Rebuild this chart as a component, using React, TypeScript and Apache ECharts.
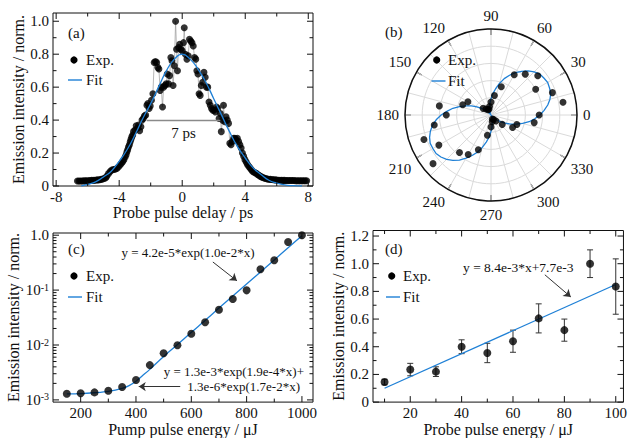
import React, { useEffect, useRef } from 'react';
import * as echarts from 'echarts';

const FONT = '"Liberation Serif", "Times New Roman", serif';
const INK = '#111111';
const BLUE = '#1f80d6';
const GRIDC = '#dadada';

// ---------- Panel (a): probe pulse delay scan ----------
const delayData: [number, number][] = [
  [-6.65, 0.03], [-6.55, 0.03], [-6.45, 0.03], [-6.35, 0.03], [-6.25, 0.031], [-6.15, 0.031], [-6.05, 0.032],
  [-5.95, 0.032], [-5.85, 0.033], [-5.75, 0.034], [-5.65, 0.034], [-5.55, 0.035], [-5.45, 0.036], [-5.35, 0.037],
  [-5.25, 0.038], [-5.15, 0.04], [-5.05, 0.042], [-4.95, 0.045], [-4.85, 0.05], [-4.78, 0.06], [-4.68, 0.075],
  [-4.57, 0.088], [-4.47, 0.097], [-4.36, 0.1], [-4.26, 0.102], [-4.15, 0.106], [-4.05, 0.115], [-3.94, 0.127],
  [-3.86, 0.138], [-3.77, 0.148], [-3.7, 0.16], [-3.62, 0.176], [-3.56, 0.19], [-3.51, 0.206], [-3.46, 0.22],
  [-3.41, 0.236], [-3.35, 0.25], [-3.3, 0.268], [-3.25, 0.283], [-3.2, 0.298], [-3.14, 0.31], [-3.09, 0.33],
  [-3.0, 0.34], [-2.92, 0.365], [-2.84, 0.35], [-2.77, 0.37], [-2.7, 0.335], [-2.62, 0.36], [-2.55, 0.4],
  [-2.47, 0.41], [-2.4, 0.425], [-2.32, 0.43], [-2.24, 0.49], [-2.18, 0.5], [-2.1, 0.47], [-2.03, 0.485],
  [-1.95, 0.52], [-1.86, 0.56], [-1.78, 0.75], [-1.7, 0.755], [-1.62, 0.75], [-1.55, 0.72], [-1.48, 0.71],
  [-1.4, 0.58], [-1.33, 0.6], [-1.25, 0.48], [-1.18, 0.6], [-1.1, 0.61], [-1.02, 0.62], [-0.95, 0.68],
  [-0.87, 0.62], [-0.8, 0.67], [-0.72, 0.78], [-0.65, 0.76], [-0.58, 0.61], [-0.5, 0.73], [-0.42, 1.0],
  [-0.36, 0.83], [-0.3, 0.7], [-0.23, 0.84], [-0.16, 0.86], [-0.08, 0.83], [0.0, 0.82], [0.08, 0.87],
  [0.13, 0.96], [0.2, 0.8], [0.3, 0.77], [0.38, 0.79], [0.46, 0.89], [0.54, 0.88], [0.62, 0.87], [0.7, 0.85],
  [0.78, 0.78], [0.86, 0.77], [0.93, 0.7], [1.0, 0.68], [1.07, 0.56], [1.14, 0.55], [1.21, 0.61], [1.3, 0.63],
  [1.38, 0.69], [1.46, 0.66], [1.54, 0.6], [1.62, 0.6], [1.7, 0.51], [1.78, 0.49], [1.86, 0.47], [1.94, 0.46],
  [2.02, 0.46], [2.1, 0.45], [2.18, 0.48], [2.26, 0.47], [2.34, 0.41], [2.42, 0.44], [2.48, 0.33], [2.56, 0.4],
  [2.62, 0.49], [2.7, 0.39], [2.78, 0.42], [2.86, 0.4], [2.94, 0.38], [3.02, 0.26], [3.1, 0.25], [3.18, 0.27],
  [3.26, 0.29], [3.34, 0.29], [3.42, 0.28], [3.5, 0.29], [3.58, 0.27], [3.66, 0.25], [3.74, 0.23], [3.82, 0.2],
  [3.9, 0.18], [3.98, 0.16], [4.06, 0.145], [4.14, 0.13], [4.22, 0.12], [4.3, 0.11], [4.38, 0.1], [4.46, 0.09],
  [4.54, 0.085], [4.62, 0.08], [4.7, 0.077], [4.78, 0.07], [4.86, 0.065], [4.94, 0.06], [5.02, 0.056],
  [5.1, 0.052], [5.2, 0.048], [5.3, 0.045], [5.4, 0.043], [5.5, 0.041], [5.6, 0.04], [5.7, 0.039], [5.8, 0.038],
  [5.9, 0.037], [6.0, 0.036], [6.1, 0.035], [6.2, 0.035], [6.3, 0.034], [6.4, 0.034], [6.5, 0.034], [6.6, 0.033],
  [6.7, 0.033], [6.8, 0.033], [6.9, 0.033], [7.0, 0.033], [7.1, 0.033], [7.2, 0.032], [7.3, 0.032], [7.4, 0.032],
  [7.5, 0.032], [7.6, 0.032], [7.7, 0.032], [7.8, 0.032], [7.9, 0.032],
];
const delayFit: [number, number][] = [
  [-6.4, 0.0], [-6.0, 0.01], [-5.5, 0.025], [-5.0, 0.055], [-4.5, 0.09], [-4.0, 0.15], [-3.5, 0.22],
  [-3.0, 0.31], [-2.5, 0.41], [-2.0, 0.5], [-1.5, 0.6], [-1.0, 0.7], [-0.5, 0.77], [0, 0.8], [0.5, 0.77],
  [1.0, 0.71], [1.5, 0.63], [2.0, 0.53], [2.5, 0.43], [3.0, 0.33], [3.5, 0.24], [4.0, 0.17], [4.5, 0.11],
  [5.0, 0.07], [5.5, 0.035], [6.0, 0.018], [6.5, 0.007], [7.0, 0.002], [7.6, 0.0],
];
const fwhmSegment: [number, number][] = [[-2.25, 0.4], [2.42, 0.4]];
const fwhmText = '7 ps';
const aXLabels = [-8, -4, 0, 4, 8];
const aXMinor = [-6, -2, 2, 6];
const aYLabels = [0, 0.2, 0.4, 0.6, 0.8, 1.0];
const aYMinor = [0.1, 0.3, 0.5, 0.7, 0.9];

// ---------- Panel (b): polarisation ----------
const polarAngles = [0, 10, 20, 30, 40, 50, 60, 70, 80, 90, 100, 110, 120, 130, 140, 150, 160, 170, 180, 190, 200,
  210, 220, 230, 240, 250, 260, 270, 280, 290, 300, 310, 320, 330, 340, 350];
const polarRadii = [0.56, 0.85, 0.76, 0.6, 0.71, 0.62, 0.54, 0.35, 0.23, 0.15, 0.1, 0.07, 0.07, 0.09, 0.12, 0.31,
  0.35, 0.61, 0.52, 0.67, 0.83, 0.7, 0.88, 0.57, 0.53, 0.43, 0.24, 0.14, 0.08, 0.05, 0.06, 0.09, 0.17, 0.29, 0.32, 0.51];
const polarFitAngles = [0, 5, 10, 15, 20, 25, 30, 35, 40, 45, 50, 55, 60, 65, 70, 75, 80, 85, 90, 95, 100, 105, 110,
  115, 120, 125, 130, 135, 140, 145, 150, 155, 160, 165, 170, 175, 180, 185, 190, 195, 200, 205, 210, 215, 220, 225,
  230, 235, 240, 245, 250, 255, 260, 265, 270, 275, 280, 285, 290, 295, 300, 305, 310, 315, 320, 325, 330, 335, 340,
  345, 350, 355, 360];
const polarFitRadii = [0.57, 0.62, 0.67, 0.71, 0.74, 0.75, 0.76, 0.75, 0.74, 0.71, 0.67, 0.62, 0.57, 0.51, 0.45, 0.38,
  0.31, 0.25, 0.19, 0.14, 0.09, 0.05, 0.02, 0.01, 0, 0.01, 0.02, 0.05, 0.09, 0.14, 0.19, 0.25, 0.31, 0.38, 0.45, 0.51,
  0.58, 0.64, 0.69, 0.73, 0.76, 0.78, 0.78, 0.78, 0.76, 0.73, 0.69, 0.64, 0.58, 0.52, 0.46, 0.39, 0.32, 0.26, 0.19,
  0.14, 0.09, 0.05, 0.02, 0.01, 0, 0.01, 0.02, 0.05, 0.09, 0.14, 0.19, 0.25, 0.31, 0.38, 0.45, 0.51, 0.57];
const polarAngleLabels = [0, 30, 60, 90, 120, 150, 180, 210, 240, 270, 300, 330];

// ---------- Panel (c): pump pulse energy ----------
const pumpEnergy = [150, 200, 250, 300, 350, 400, 450, 500, 550, 600, 650, 700, 750, 800, 850, 900, 950, 1000];
const pumpIntensity = [1.29e-3, 1.32e-3, 1.37e-3, 1.47e-3, 1.72e-3, 2.3e-3, 4.3e-3, 7.1e-3, 9.9e-3, 1.6e-2, 2.6e-2,
  4.4e-2, 6.9e-2, 9.9e-2, 0.24, 0.35, 0.75, 1.0];
const pumpFitEnergy = [150, 200, 250, 300, 350, 375, 400, 425, 450, 500, 550, 600, 650, 700, 750, 800, 850, 900, 950, 1000];
const pumpFitIntensity = [1.29e-3, 1.3e-3, 1.35e-3, 1.43e-3, 1.62e-3, 1.82e-3, 2.19e-3, 2.8e-3, 3.6e-3, 6.2e-3,
  1.02e-2, 1.7e-2, 2.8e-2, 4.7e-2, 7.8e-2, 0.129, 0.214, 0.355, 0.59, 0.98];
const pumpArrowHigh: [number, number][] = [[678, 0.325], [765, 0.1475]];
const pumpArrowLow: [number, number][] = [[560, 1.75e-3], [410, 1.75e-3]];
const pumpEqHigh = 'y = 4.2e-5*exp(1.0e-2*x)';
const pumpEqLow1 = 'y = 1.3e-3*exp(1.9e-4*x)+';
const pumpEqLow2 = '1.3e-6*exp(1.7e-2*x)';
const cXLabels = [200, 400, 600, 800, 1000];
const cXMinor = [300, 500, 700, 900];
const cYDecades = [1e-3, 1e-2, 1e-1, 1];
const cYMinorMult = [2, 3, 4, 5, 6, 7, 8, 9];

// ---------- Panel (d): probe pulse energy ----------
const probeEnergy = [10, 20, 30, 40, 50, 60, 70, 80, 90, 100];
const probeIntensity = [0.145, 0.235, 0.22, 0.4, 0.355, 0.44, 0.605, 0.52, 1.0, 0.835];
const probeError = [0.02, 0.045, 0.035, 0.05, 0.07, 0.08, 0.105, 0.08, 0.1, 0.2];
const probeFit: [number, number][] = [[10, 0.1], [100, 0.85]];
const probeArrow: [number, number][] = [[72.4, 0.92], [82.5, 0.76]];
const probeEq = 'y = 8.4e-3*x+7.7e-3';
const dXLabels = [20, 40, 60, 80, 100];
const dXMinor = [10, 30, 50, 70, 90];
const dYLabels = [0, 0.2, 0.4, 0.6, 0.8, 1.0, 1.2];
const dYMinor = [0.1, 0.3, 0.5, 0.7, 0.9, 1.1];

const lg = (v: number) => Math.log10(v);

function tickSeries(idx: number, xMajor: number[], xMinor: number[], yMajor: number[], yMinor: number[], xRef: number, yRef: number) {
  const data: number[][] = [];
  xMajor.forEach((v) => data.push([v, yRef, 0, 6]));
  xMinor.forEach((v) => data.push([v, yRef, 0, 3.5]));
  yMajor.forEach((v) => data.push([xRef, v, 1, 6]));
  yMinor.forEach((v) => data.push([xRef, v, 1, 3.5]));
  return {
    type: 'custom',
    xAxisIndex: idx,
    yAxisIndex: idx,
    silent: true,
    z: 5,
    clip: false,
    encode: { x: 0, y: 1 },
    data,
    renderItem: (params: any, api: any) => {
      const cs = params.coordSys;
      const p = api.coord([api.value(0), api.value(1)]);
      const len = api.value(3);
      const style = { stroke: INK, lineWidth: 1 };
      if (api.value(2) === 0) {
        const x = p[0];
        const yb = cs.y + cs.height;
        const yt = cs.y;
        return {
          type: 'group',
          children: [
            { type: 'line', shape: { x1: x, y1: yb, x2: x, y2: yb - len }, style },
            { type: 'line', shape: { x1: x, y1: yt, x2: x, y2: yt + len }, style },
          ],
        };
      }
      const y = p[1];
      const xl = cs.x;
      const xr = cs.x + cs.width;
      return {
        type: 'group',
        children: [
          { type: 'line', shape: { x1: xl, y1: y, x2: xl + len, y2: y }, style },
          { type: 'line', shape: { x1: xr, y1: y, x2: xr - len, y2: y }, style },
        ],
      };
    },
  };
}

const labelBase = { fontFamily: FONT, fontSize: 15, color: INK };
const nameBase = { fontFamily: FONT, fontSize: 16, color: INK };

function legendGraphic(lineX: number, dotX: number, textX: number, yExp: number, yFit: number) {
  return [
    { type: 'circle', z: 100, shape: { cx: dotX, cy: yExp, r: 3.6 }, style: { fill: '#000' } },
    { type: 'text', z: 100, x: textX, y: yExp, style: { text: 'Exp.', fontFamily: FONT, fontSize: 15, fill: INK, verticalAlign: 'middle', align: 'left' } },
    { type: 'line', z: 100, shape: { x1: lineX, y1: yFit, x2: lineX + 14, y2: yFit }, style: { stroke: BLUE, lineWidth: 1.4 } },
    { type: 'text', z: 100, x: textX, y: yFit, style: { text: 'Fit', fontFamily: FONT, fontSize: 15, fill: INK, verticalAlign: 'middle', align: 'left' } },
  ];
}

function textG(text: string, x: number, y: number, size: number, align: string) {
  return { type: 'text', z: 100, x, y, style: { text, fontFamily: FONT, fontSize: size, fill: INK, align, verticalAlign: 'middle' } };
}

const arrowMark = (segs: [number, number][][], toY: (v: number) => number) => ({
  silent: true,
  symbol: ['none', 'arrow'],
  symbolSize: 7,
  lineStyle: { color: '#333', width: 1, type: 'solid' },
  label: { show: false },
  data: segs.map((seg) => [{ coord: [seg[0][0], toY(seg[0][1])] }, { coord: [seg[1][0], toY(seg[1][1])] }]),
});

export default function App() {
  const ref = useRef<HTMLDivElement>(null);
  useEffect(() => {
    if (!ref.current) return;
    const chart = echarts.init(ref.current, undefined, { renderer: 'svg' });
    const ident = (v: number) => v;
    const cYMinor: number[] = [];
    cYDecades.slice(0, 3).forEach((d) => cYMinorMult.forEach((m) => cYMinor.push(lg(d * m))));

    const option: any = {
      animation: false,
      backgroundColor: '#ffffff',
      grid: [
        { left: 53, top: 13, width: 260, height: 173, show: true, borderColor: INK, borderWidth: 1, backgroundColor: 'transparent' },
        { left: 53, top: 233, width: 260, height: 170, show: true, borderColor: INK, borderWidth: 1, backgroundColor: 'transparent' },
        { left: 373, top: 230.5, width: 258, height: 172.5, show: true, borderColor: INK, borderWidth: 1, backgroundColor: 'transparent' },
      ],
      xAxis: [
        {
          gridIndex: 0, type: 'value', min: -8.2, max: 8.3,
          axisLine: { show: false }, axisTick: { show: false }, splitLine: { show: false },
          axisLabel: { ...labelBase, margin: 3, customValues: aXLabels, formatter: (v: number) => String(v) },
          name: 'Probe pulse delay / ps', nameLocation: 'middle', nameGap: 18, nameTextStyle: nameBase,
        },
        {
          gridIndex: 1, type: 'value', min: 100, max: 1040,
          axisLine: { show: false }, axisTick: { show: false }, splitLine: { show: false },
          axisLabel: { ...labelBase, margin: 3, customValues: cXLabels, formatter: (v: number) => String(v) },
          name: 'Pump pulse energy / μJ', nameLocation: 'middle', nameGap: 18, nameTextStyle: nameBase,
        },
        {
          gridIndex: 2, type: 'value', min: 5.5, max: 103,
          axisLine: { show: false }, axisTick: { show: false }, splitLine: { show: false },
          axisLabel: { ...labelBase, margin: 3, customValues: dXLabels, formatter: (v: number) => String(v) },
          name: 'Probe pulse energy / μJ', nameLocation: 'middle', nameGap: 18, nameTextStyle: nameBase,
        },
      ],
      yAxis: [
        {
          gridIndex: 0, type: 'value', min: 0, max: 1.05,
          axisLine: { show: false }, axisTick: { show: false }, splitLine: { show: false },
          axisLabel: { ...labelBase, margin: 4, customValues: aYLabels, formatter: (v: number) => (v === 0 ? '0' : v.toFixed(1)) },
          name: 'Emission intensity / norm.', nameLocation: 'middle', nameGap: 27, nameTextStyle: nameBase,
        },
        {
          gridIndex: 1, type: 'value', min: -3.04, max: 0.04,
          axisLine: { show: false }, axisTick: { show: false }, splitLine: { show: false },
          axisLabel: {
            ...labelBase, margin: 4, customValues: cYDecades.map(lg),
            formatter: (v: number) => (Math.round(v) === 0 ? '1.0' : '10{sup|' + Math.round(v) + '}'),
            rich: { sup: { fontFamily: FONT, fontSize: 10, color: INK, verticalAlign: 'top', padding: [0, 0, 6, 0] } },
          },
          name: 'Emission intensity / norm.', nameLocation: 'middle', nameGap: 27, nameTextStyle: nameBase,
        },
        {
          gridIndex: 2, type: 'value', min: 0, max: 1.24,
          axisLine: { show: false }, axisTick: { show: false }, splitLine: { show: false },
          axisLabel: { ...labelBase, margin: 4, customValues: dYLabels, formatter: (v: number) => (v === 0 ? '0' : v.toFixed(1)) },
          name: 'Emission intensity / norm.', nameLocation: 'middle', nameGap: 27, nameTextStyle: nameBase,
        },
      ],
      polar: { center: [491, 115], radius: 86 },
      angleAxis: {
        type: 'value', min: 0, max: 360, interval: 30, startAngle: 0, clockwise: false,
        axisLine: { show: true, lineStyle: { color: INK, width: 1.5 } },
        axisTick: { show: true, inside: true, length: 6, lineStyle: { color: INK, width: 1.2 } },
        axisLabel: { ...labelBase, margin: 6, formatter: (v: number) => (polarAngleLabels.indexOf(v) >= 0 ? String(v) : '') },
        splitLine: { show: true, lineStyle: { color: GRIDC, width: 1 } },
        minorTick: { show: false, splitNumber: 2 },
        minorSplitLine: { show: true, lineStyle: { color: GRIDC, width: 1 } },
      },
      radiusAxis: {
        min: 0, max: 1, interval: 0.2,
        axisLine: { show: false }, axisTick: { show: false }, axisLabel: { show: false },
        splitLine: { show: true, lineStyle: { color: GRIDC, width: 1 } },
      },
      series: [
        // (a)
        {
          type: 'line', xAxisIndex: 0, yAxisIndex: 0, data: delayData, symbol: 'none',
          lineStyle: { color: '#9a9a9a', width: 0.7 }, z: 2, silent: true,
          markLine: {
            silent: true, symbol: ['none', 'none'],
            lineStyle: { color: '#8a8a8a', width: 1.3, type: 'solid' },
            label: { show: true, formatter: fwhmText, position: 'insideMiddleBottom', distance: 5, fontFamily: FONT, fontSize: 15, color: INK },
            data: [[{ coord: fwhmSegment[0] }, { coord: fwhmSegment[1] }]],
          },
        },
        { type: 'scatter', xAxisIndex: 0, yAxisIndex: 0, data: delayData, symbolSize: 7, itemStyle: { color: '#000' }, z: 3 },
        { type: 'line', xAxisIndex: 0, yAxisIndex: 0, data: delayFit, smooth: true, symbol: 'none', lineStyle: { color: BLUE, width: 1.3 }, z: 4 },
        // (b)
        {
          type: 'line', coordinateSystem: 'polar', symbol: 'none', smooth: false,
          data: polarFitRadii.map((r, i) => [r, polarFitAngles[i]]),
          lineStyle: { color: BLUE, width: 1.3 }, z: 3,
        },
        {
          type: 'scatter', coordinateSystem: 'polar', symbolSize: 7, itemStyle: { color: '#000' },
          data: polarRadii.map((r, i) => [r, polarAngles[i]]), z: 4,
        },
        // (c)
        {
          type: 'line', xAxisIndex: 1, yAxisIndex: 1, symbol: 'none', smooth: 0.3,
          data: pumpFitEnergy.map((x, i) => [x, lg(pumpFitIntensity[i])]),
          lineStyle: { color: BLUE, width: 1.3 }, z: 3,
          markLine: arrowMark([pumpArrowHigh, pumpArrowLow], lg),
        },
        {
          type: 'scatter', xAxisIndex: 1, yAxisIndex: 1, symbolSize: 8, itemStyle: { color: '#000' },
          data: pumpEnergy.map((x, i) => [x, lg(pumpIntensity[i])]), z: 4,
        },
        // (d)
        {
          type: 'custom', xAxisIndex: 2, yAxisIndex: 2, silent: true, z: 3,
          encode: { x: 0, y: [1, 2] },
          data: probeEnergy.map((x, i) => [x, probeIntensity[i] - probeError[i], probeIntensity[i] + probeError[i]]),
          renderItem: (params: any, api: any) => {
            const lo = api.coord([api.value(0), api.value(1)]);
            const hi = api.coord([api.value(0), api.value(2)]);
            const style = { stroke: '#333', lineWidth: 1 };
            const w = 3;
            return {
              type: 'group',
              children: [
                { type: 'line', shape: { x1: lo[0], y1: lo[1], x2: hi[0], y2: hi[1] }, style },
                { type: 'line', shape: { x1: lo[0] - w, y1: lo[1], x2: lo[0] + w, y2: lo[1] }, style },
                { type: 'line', shape: { x1: hi[0] - w, y1: hi[1], x2: hi[0] + w, y2: hi[1] }, style },
              ],
            };
          },
        },
        {
          type: 'line', xAxisIndex: 2, yAxisIndex: 2, symbol: 'none', data: probeFit,
          lineStyle: { color: BLUE, width: 1.3 }, z: 3,
          markLine: arrowMark([probeArrow], ident),
        },
        {
          type: 'scatter', xAxisIndex: 2, yAxisIndex: 2, symbolSize: 8, itemStyle: { color: '#000' },
          data: probeEnergy.map((x, i) => [x, probeIntensity[i]]), z: 4,
        },
        tickSeries(0, aXLabels, aXMinor, aYLabels, aYMinor, -8.2, 0),
        tickSeries(1, cXLabels, cXMinor, cYDecades.map(lg), cYMinor, 100, -3),
        tickSeries(2, dXLabels, dXMinor, dYLabels, dYMinor, 5.5, 0),
      ],
      graphic: [
        textG('(a)', 68, 33, 15, 'left'),
        textG('(b)', 385, 32, 15, 'left'),
        textG('(c)', 68, 249, 15, 'left'),
        textG('(d)', 385, 249, 15, 'left'),
        ...legendGraphic(68, 74, 86, 60, 80),
        ...legendGraphic(431.5, 436.7, 448, 60, 81),
        ...legendGraphic(68, 74, 86, 276, 297),
        ...legendGraphic(386, 391.7, 403, 276, 297),
        textG(pumpEqHigh, 188, 252, 13, 'center'),
        textG(pumpEqLow1, 304, 371, 13, 'right'),
        textG(pumpEqLow2, 300, 386, 13, 'right'),
        textG(probeEq, 463, 267, 13.5, 'left'),
      ],
    };
    chart.setOption(option);
    return () => chart.dispose();
  }, []);
  return <div ref={ref} style={{ position: 'fixed', left: 0, top: 0, width: 630, height: 438, background: '#fff' }} />;
}
